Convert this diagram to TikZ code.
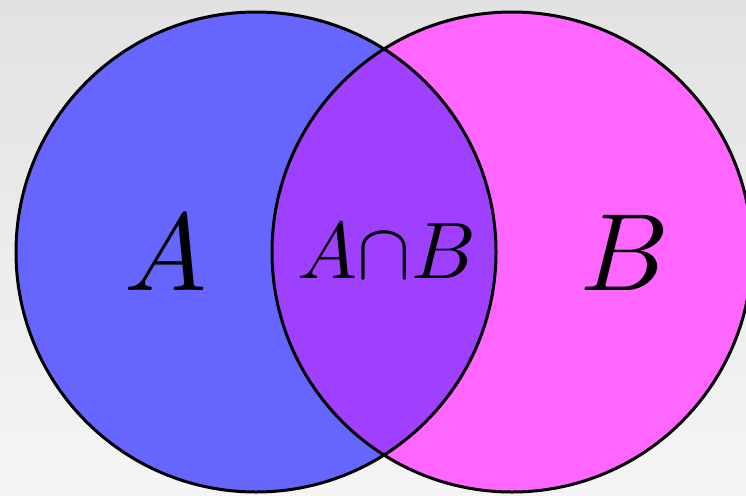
\documentclass[tikz,border=0pt]{standalone}
\usepackage{tikz}
\definecolor{setA}{HTML}{6666FF}
\definecolor{setB}{HTML}{FF66FF}
\definecolor{setAB}{HTML}{A040FF}
\definecolor{bgtop}{HTML}{E2E2E2}
\definecolor{bgbot}{HTML}{F5F5F5}
\tikzset{
  outline/.style={draw=black, line width=3pt},
  biglabel/.style={inner sep=0pt, scale=11},
  midlabel/.style={inner sep=0pt, scale=8},
}
\begin{document}
\begin{tikzpicture}[x=1pt,y=-1pt]
  \useasboundingbox (0,0) rectangle (746,495);
  \clip (0,0) rectangle (746,495);
  \shade[top color=bgtop, bottom color=bgbot] (0,0) rectangle (746,495);
  \coordinate (ca) at (256,252);
  \coordinate (cb) at (512,252);
  \fill[setA] (ca) circle[radius=240];
  \fill[setB] (cb) circle[radius=240];
  \begin{scope}
    \clip (ca) circle[radius=240];
    \fill[setAB] (cb) circle[radius=240];
  \end{scope}
  \draw[outline] (ca) circle[radius=240];
  \draw[outline] (cb) circle[radius=240];
  \node[biglabel] (la) at (166,253) {$A$};
  \node[biglabel] (lb) at (625,253) {$B$};
  \node[midlabel] (lab) at (387,251) {$A{\cap}B$};
\end{tikzpicture}
\end{document}
